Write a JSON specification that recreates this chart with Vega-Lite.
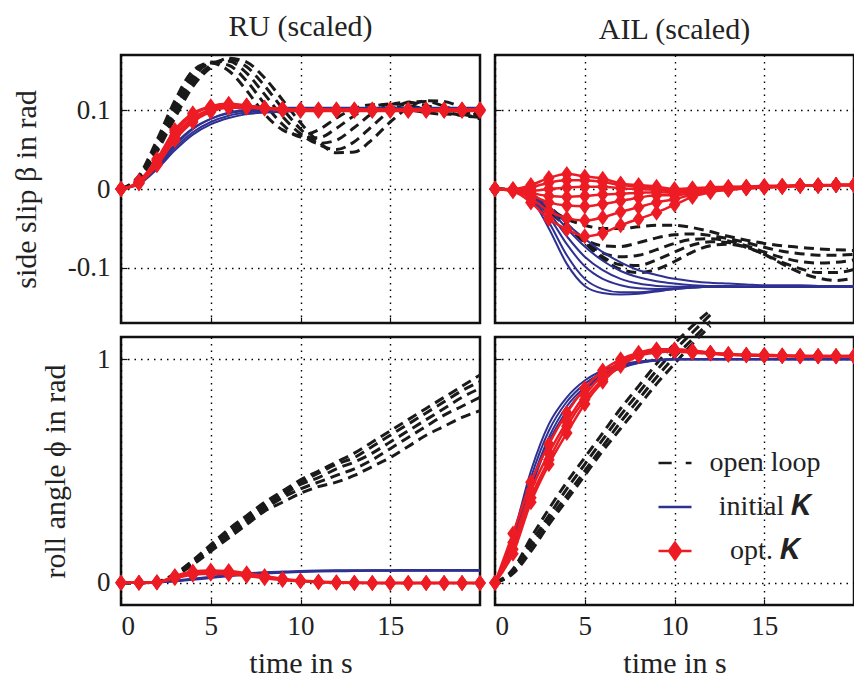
{
  "$schema": "https://vega.github.io/schema/vega-lite/v6.json",
  "padding": {"left": 10, "top": 10, "right": 1, "bottom": 1},
  "config": {
    "font": "Liberation Serif, Times New Roman, DejaVu Serif, serif",
    "view": {"stroke": "#111111", "strokeWidth": 2.5},
    "axis": {
      "grid": true, "gridColor": "#000000", "gridDash": [1.5, 5], "gridWidth": 1.4, "gridOpacity": 1,
      "domain": false, "ticks": true, "tickColor": "#111111", "tickSize": -6, "tickWidth": 1.2,
      "labelFont": "Liberation Serif, Times New Roman, DejaVu Serif, serif", "labelFontSize": 27, "labelColor": "#222222",
      "titleFont": "Liberation Serif, Times New Roman, DejaVu Serif, serif", "titleFontSize": 30, "titleFontWeight": "normal", "titleColor": "#222222"
    },
    "title": {"font": "Liberation Serif, Times New Roman, DejaVu Serif, serif", "fontSize": 30, "fontWeight": "normal", "color": "#222222", "offset": 10, "anchor": "middle"},
    "line": {"interpolate": "monotone", "clip": true}
  },
  "datasets": {
    "tlo": [
      {"c":1,"t":0,"v":0},{"c":1,"t":1,"v":0.017},{"c":1,"t":2,"v":0.062},{"c":1,"t":3,"v":0.112},{"c":1,"t":4,"v":0.15},{"c":1,"t":5,"v":0.16},{"c":1,"t":6,"v":0.15},{"c":1,"t":7,"v":0.125},{"c":1,"t":8,"v":0.095},{"c":1,"t":9,"v":0.075},{"c":1,"t":10,"v":0.068},{"c":1,"t":11,"v":0.075},{"c":1,"t":12,"v":0.09},{"c":1,"t":13,"v":0.102},{"c":1,"t":14,"v":0.107},{"c":1,"t":15,"v":0.106},{"c":1,"t":16,"v":0.101},{"c":1,"t":17,"v":0.097},{"c":1,"t":18,"v":0.095},{"c":1,"t":19,"v":0.096},{"c":1,"t":20,"v":0.098},
      {"c":2,"t":0,"v":0},{"c":2,"t":1,"v":0.015},{"c":2,"t":2,"v":0.057},{"c":2,"t":3,"v":0.106},{"c":2,"t":4,"v":0.145},{"c":2,"t":5,"v":0.161},{"c":2,"t":6,"v":0.157},{"c":2,"t":7,"v":0.137},{"c":2,"t":8,"v":0.108},{"c":2,"t":9,"v":0.082},{"c":2,"t":10,"v":0.066},{"c":2,"t":11,"v":0.065},{"c":2,"t":12,"v":0.077},{"c":2,"t":13,"v":0.093},{"c":2,"t":14,"v":0.104},{"c":2,"t":15,"v":0.108},{"c":2,"t":16,"v":0.106},{"c":2,"t":17,"v":0.101},{"c":2,"t":18,"v":0.096},{"c":2,"t":19,"v":0.094},{"c":2,"t":20,"v":0.095},
      {"c":3,"t":0,"v":0},{"c":3,"t":1,"v":0.014},{"c":3,"t":2,"v":0.053},{"c":3,"t":3,"v":0.1},{"c":3,"t":4,"v":0.14},{"c":3,"t":5,"v":0.16},{"c":3,"t":6,"v":0.162},{"c":3,"t":7,"v":0.147},{"c":3,"t":8,"v":0.12},{"c":3,"t":9,"v":0.092},{"c":3,"t":10,"v":0.07},{"c":3,"t":11,"v":0.058},{"c":3,"t":12,"v":0.062},{"c":3,"t":13,"v":0.078},{"c":3,"t":14,"v":0.096},{"c":3,"t":15,"v":0.107},{"c":3,"t":16,"v":0.11},{"c":3,"t":17,"v":0.106},{"c":3,"t":18,"v":0.099},{"c":3,"t":19,"v":0.093},{"c":3,"t":20,"v":0.091},
      {"c":4,"t":0,"v":0},{"c":4,"t":1,"v":0.013},{"c":4,"t":2,"v":0.05},{"c":4,"t":3,"v":0.095},{"c":4,"t":4,"v":0.135},{"c":4,"t":5,"v":0.157},{"c":4,"t":6,"v":0.165},{"c":4,"t":7,"v":0.155},{"c":4,"t":8,"v":0.131},{"c":4,"t":9,"v":0.102},{"c":4,"t":10,"v":0.076},{"c":4,"t":11,"v":0.057},{"c":4,"t":12,"v":0.05},{"c":4,"t":13,"v":0.06},{"c":4,"t":14,"v":0.08},{"c":4,"t":15,"v":0.099},{"c":4,"t":16,"v":0.11},{"c":4,"t":17,"v":0.111},{"c":4,"t":18,"v":0.105},{"c":4,"t":19,"v":0.096},{"c":4,"t":20,"v":0.089},
      {"c":5,"t":0,"v":0},{"c":5,"t":1,"v":0.012},{"c":5,"t":2,"v":0.047},{"c":5,"t":3,"v":0.09},{"c":5,"t":4,"v":0.13},{"c":5,"t":5,"v":0.154},{"c":5,"t":6,"v":0.166},{"c":5,"t":7,"v":0.161},{"c":5,"t":8,"v":0.141},{"c":5,"t":9,"v":0.113},{"c":5,"t":10,"v":0.084},{"c":5,"t":11,"v":0.06},{"c":5,"t":12,"v":0.046},{"c":5,"t":13,"v":0.047},{"c":5,"t":14,"v":0.063},{"c":5,"t":15,"v":0.085},{"c":5,"t":16,"v":0.103},{"c":5,"t":17,"v":0.112},{"c":5,"t":18,"v":0.111},{"c":5,"t":19,"v":0.103},{"c":5,"t":20,"v":0.093}
    ],
    "tlb": [
      {"c":1,"t":0,"v":0},{"c":1,"t":1,"v":0.008},{"c":1,"t":2,"v":0.03},{"c":1,"t":3,"v":0.057},{"c":1,"t":4,"v":0.077},{"c":1,"t":5,"v":0.089},{"c":1,"t":6,"v":0.096},{"c":1,"t":7,"v":0.099},{"c":1,"t":8,"v":0.1},{"c":1,"t":9,"v":0.101},{"c":1,"t":10,"v":0.101},{"c":1,"t":11,"v":0.101},{"c":1,"t":12,"v":0.101},{"c":1,"t":13,"v":0.101},{"c":1,"t":14,"v":0.101},{"c":1,"t":15,"v":0.101},{"c":1,"t":16,"v":0.101},{"c":1,"t":17,"v":0.101},{"c":1,"t":18,"v":0.101},{"c":1,"t":19,"v":0.101},{"c":1,"t":20,"v":0.101},
      {"c":2,"t":0,"v":0},{"c":2,"t":1,"v":0.007},{"c":2,"t":2,"v":0.027},{"c":2,"t":3,"v":0.052},{"c":2,"t":4,"v":0.072},{"c":2,"t":5,"v":0.085},{"c":2,"t":6,"v":0.093},{"c":2,"t":7,"v":0.097},{"c":2,"t":8,"v":0.099},{"c":2,"t":9,"v":0.1},{"c":2,"t":10,"v":0.1},{"c":2,"t":11,"v":0.1},{"c":2,"t":12,"v":0.1},{"c":2,"t":13,"v":0.1},{"c":2,"t":14,"v":0.1},{"c":2,"t":15,"v":0.1},{"c":2,"t":16,"v":0.1},{"c":2,"t":17,"v":0.1},{"c":2,"t":18,"v":0.1},{"c":2,"t":19,"v":0.1},{"c":2,"t":20,"v":0.1},
      {"c":3,"t":0,"v":0},{"c":3,"t":1,"v":0.006},{"c":3,"t":2,"v":0.025},{"c":3,"t":3,"v":0.049},{"c":3,"t":4,"v":0.069},{"c":3,"t":5,"v":0.082},{"c":3,"t":6,"v":0.09},{"c":3,"t":7,"v":0.095},{"c":3,"t":8,"v":0.097},{"c":3,"t":9,"v":0.098},{"c":3,"t":10,"v":0.099},{"c":3,"t":11,"v":0.099},{"c":3,"t":12,"v":0.099},{"c":3,"t":13,"v":0.099},{"c":3,"t":14,"v":0.099},{"c":3,"t":15,"v":0.099},{"c":3,"t":16,"v":0.099},{"c":3,"t":17,"v":0.099},{"c":3,"t":18,"v":0.099},{"c":3,"t":19,"v":0.099},{"c":3,"t":20,"v":0.099},
      {"c":4,"t":0,"v":0},{"c":4,"t":1,"v":0.008},{"c":4,"t":2,"v":0.029},{"c":4,"t":3,"v":0.055},{"c":4,"t":4,"v":0.076},{"c":4,"t":5,"v":0.089},{"c":4,"t":6,"v":0.097},{"c":4,"t":7,"v":0.101},{"c":4,"t":8,"v":0.102},{"c":4,"t":9,"v":0.103},{"c":4,"t":10,"v":0.103},{"c":4,"t":11,"v":0.103},{"c":4,"t":12,"v":0.103},{"c":4,"t":13,"v":0.103},{"c":4,"t":14,"v":0.103},{"c":4,"t":15,"v":0.103},{"c":4,"t":16,"v":0.103},{"c":4,"t":17,"v":0.103},{"c":4,"t":18,"v":0.103},{"c":4,"t":19,"v":0.103},{"c":4,"t":20,"v":0.103}
    ],
    "tlr": [
      {"c":1,"t":0,"v":0},{"c":1,"t":1,"v":0.01},{"c":1,"t":2,"v":0.038},{"c":1,"t":3,"v":0.075},{"c":1,"t":4,"v":0.096},{"c":1,"t":5,"v":0.105},{"c":1,"t":6,"v":0.108},{"c":1,"t":7,"v":0.106},{"c":1,"t":8,"v":0.103},{"c":1,"t":9,"v":0.101},{"c":1,"t":10,"v":0.1},{"c":1,"t":11,"v":0.1},{"c":1,"t":12,"v":0.1},{"c":1,"t":13,"v":0.1},{"c":1,"t":14,"v":0.1},{"c":1,"t":15,"v":0.1},{"c":1,"t":16,"v":0.1},{"c":1,"t":17,"v":0.1},{"c":1,"t":18,"v":0.1},{"c":1,"t":19,"v":0.1},{"c":1,"t":20,"v":0.1},
      {"c":2,"t":0,"v":0},{"c":2,"t":1,"v":0.008},{"c":2,"t":2,"v":0.033},{"c":2,"t":3,"v":0.068},{"c":2,"t":4,"v":0.09},{"c":2,"t":5,"v":0.101},{"c":2,"t":6,"v":0.105},{"c":2,"t":7,"v":0.105},{"c":2,"t":8,"v":0.103},{"c":2,"t":9,"v":0.101},{"c":2,"t":10,"v":0.1},{"c":2,"t":11,"v":0.1},{"c":2,"t":12,"v":0.1},{"c":2,"t":13,"v":0.1},{"c":2,"t":14,"v":0.1},{"c":2,"t":15,"v":0.1},{"c":2,"t":16,"v":0.1},{"c":2,"t":17,"v":0.1},{"c":2,"t":18,"v":0.1},{"c":2,"t":19,"v":0.1},{"c":2,"t":20,"v":0.1},
      {"c":3,"t":0,"v":0},{"c":3,"t":1,"v":0.007},{"c":3,"t":2,"v":0.03},{"c":3,"t":3,"v":0.062},{"c":3,"t":4,"v":0.085},{"c":3,"t":5,"v":0.098},{"c":3,"t":6,"v":0.104},{"c":3,"t":7,"v":0.105},{"c":3,"t":8,"v":0.103},{"c":3,"t":9,"v":0.102},{"c":3,"t":10,"v":0.101},{"c":3,"t":11,"v":0.101},{"c":3,"t":12,"v":0.101},{"c":3,"t":13,"v":0.101},{"c":3,"t":14,"v":0.101},{"c":3,"t":15,"v":0.101},{"c":3,"t":16,"v":0.101},{"c":3,"t":17,"v":0.101},{"c":3,"t":18,"v":0.101},{"c":3,"t":19,"v":0.101},{"c":3,"t":20,"v":0.101},
      {"c":4,"t":0,"v":0},{"c":4,"t":1,"v":0.009},{"c":4,"t":2,"v":0.036},{"c":4,"t":3,"v":0.072},{"c":4,"t":4,"v":0.094},{"c":4,"t":5,"v":0.104},{"c":4,"t":6,"v":0.107},{"c":4,"t":7,"v":0.106},{"c":4,"t":8,"v":0.102},{"c":4,"t":9,"v":0.1},{"c":4,"t":10,"v":0.099},{"c":4,"t":11,"v":0.099},{"c":4,"t":12,"v":0.099},{"c":4,"t":13,"v":0.099},{"c":4,"t":14,"v":0.099},{"c":4,"t":15,"v":0.099},{"c":4,"t":16,"v":0.099},{"c":4,"t":17,"v":0.099},{"c":4,"t":18,"v":0.099},{"c":4,"t":19,"v":0.099},{"c":4,"t":20,"v":0.099},
      {"c":5,"t":0,"v":0},{"c":5,"t":1,"v":0.008},{"c":5,"t":2,"v":0.031},{"c":5,"t":3,"v":0.065},{"c":5,"t":4,"v":0.088},{"c":5,"t":5,"v":0.099},{"c":5,"t":6,"v":0.103},{"c":5,"t":7,"v":0.103},{"c":5,"t":8,"v":0.102},{"c":5,"t":9,"v":0.101},{"c":5,"t":10,"v":0.101},{"c":5,"t":11,"v":0.101},{"c":5,"t":12,"v":0.101},{"c":5,"t":13,"v":0.101},{"c":5,"t":14,"v":0.101},{"c":5,"t":15,"v":0.101},{"c":5,"t":16,"v":0.101},{"c":5,"t":17,"v":0.101},{"c":5,"t":18,"v":0.101},{"c":5,"t":19,"v":0.101},{"c":5,"t":20,"v":0.101}
    ],
    "tro": [
      {"c":1,"t":0,"v":0},{"c":1,"t":1,"v":-0.002},{"c":1,"t":2,"v":-0.011},{"c":1,"t":3,"v":-0.025},{"c":1,"t":4,"v":-0.038},{"c":1,"t":5,"v":-0.046},{"c":1,"t":6,"v":-0.05},{"c":1,"t":7,"v":-0.05},{"c":1,"t":8,"v":-0.048},{"c":1,"t":9,"v":-0.046},{"c":1,"t":10,"v":-0.046},{"c":1,"t":11,"v":-0.049},{"c":1,"t":12,"v":-0.054},{"c":1,"t":13,"v":-0.06},{"c":1,"t":14,"v":-0.065},{"c":1,"t":15,"v":-0.069},{"c":1,"t":16,"v":-0.072},{"c":1,"t":17,"v":-0.074},{"c":1,"t":18,"v":-0.076},{"c":1,"t":19,"v":-0.077},{"c":1,"t":20,"v":-0.078},
      {"c":2,"t":0,"v":0},{"c":2,"t":1,"v":-0.002},{"c":2,"t":2,"v":-0.011},{"c":2,"t":3,"v":-0.028},{"c":2,"t":4,"v":-0.048},{"c":2,"t":5,"v":-0.064},{"c":2,"t":6,"v":-0.072},{"c":2,"t":7,"v":-0.073},{"c":2,"t":8,"v":-0.068},{"c":2,"t":9,"v":-0.062},{"c":2,"t":10,"v":-0.058},{"c":2,"t":11,"v":-0.057},{"c":2,"t":12,"v":-0.059},{"c":2,"t":13,"v":-0.063},{"c":2,"t":14,"v":-0.068},{"c":2,"t":15,"v":-0.074},{"c":2,"t":16,"v":-0.079},{"c":2,"t":17,"v":-0.082},{"c":2,"t":18,"v":-0.084},{"c":2,"t":19,"v":-0.084},{"c":2,"t":20,"v":-0.083},
      {"c":3,"t":0,"v":0},{"c":3,"t":1,"v":-0.002},{"c":3,"t":2,"v":-0.01},{"c":3,"t":3,"v":-0.026},{"c":3,"t":4,"v":-0.047},{"c":3,"t":5,"v":-0.067},{"c":3,"t":6,"v":-0.081},{"c":3,"t":7,"v":-0.086},{"c":3,"t":8,"v":-0.084},{"c":3,"t":9,"v":-0.077},{"c":3,"t":10,"v":-0.069},{"c":3,"t":11,"v":-0.064},{"c":3,"t":12,"v":-0.063},{"c":3,"t":13,"v":-0.066},{"c":3,"t":14,"v":-0.072},{"c":3,"t":15,"v":-0.08},{"c":3,"t":16,"v":-0.087},{"c":3,"t":17,"v":-0.092},{"c":3,"t":18,"v":-0.094},{"c":3,"t":19,"v":-0.093},{"c":3,"t":20,"v":-0.09},
      {"c":4,"t":0,"v":0},{"c":4,"t":1,"v":-0.001},{"c":4,"t":2,"v":-0.009},{"c":4,"t":3,"v":-0.024},{"c":4,"t":4,"v":-0.046},{"c":4,"t":5,"v":-0.068},{"c":4,"t":6,"v":-0.086},{"c":4,"t":7,"v":-0.096},{"c":4,"t":8,"v":-0.097},{"c":4,"t":9,"v":-0.09},{"c":4,"t":10,"v":-0.08},{"c":4,"t":11,"v":-0.071},{"c":4,"t":12,"v":-0.067},{"c":4,"t":13,"v":-0.068},{"c":4,"t":14,"v":-0.074},{"c":4,"t":15,"v":-0.083},{"c":4,"t":16,"v":-0.093},{"c":4,"t":17,"v":-0.101},{"c":4,"t":18,"v":-0.106},{"c":4,"t":19,"v":-0.106},{"c":4,"t":20,"v":-0.102},
      {"c":5,"t":0,"v":0},{"c":5,"t":1,"v":-0.001},{"c":5,"t":2,"v":-0.008},{"c":5,"t":3,"v":-0.022},{"c":5,"t":4,"v":-0.044},{"c":5,"t":5,"v":-0.068},{"c":5,"t":6,"v":-0.089},{"c":5,"t":7,"v":-0.102},{"c":5,"t":8,"v":-0.106},{"c":5,"t":9,"v":-0.102},{"c":5,"t":10,"v":-0.092},{"c":5,"t":11,"v":-0.08},{"c":5,"t":12,"v":-0.072},{"c":5,"t":13,"v":-0.07},{"c":5,"t":14,"v":-0.074},{"c":5,"t":15,"v":-0.083},{"c":5,"t":16,"v":-0.095},{"c":5,"t":17,"v":-0.106},{"c":5,"t":18,"v":-0.113},{"c":5,"t":19,"v":-0.116},{"c":5,"t":20,"v":-0.113}
    ],
    "trb": [
      {"c":1,"t":0,"v":0},{"c":1,"t":1,"v":-0.001},{"c":1,"t":2,"v":-0.012},{"c":1,"t":3,"v":-0.05},{"c":1,"t":4,"v":-0.095},{"c":1,"t":5,"v":-0.123},{"c":1,"t":6,"v":-0.132},{"c":1,"t":7,"v":-0.134},{"c":1,"t":8,"v":-0.133},{"c":1,"t":9,"v":-0.13},{"c":1,"t":10,"v":-0.127},{"c":1,"t":11,"v":-0.125},{"c":1,"t":12,"v":-0.124},{"c":1,"t":13,"v":-0.124},{"c":1,"t":14,"v":-0.124},{"c":1,"t":15,"v":-0.124},{"c":1,"t":16,"v":-0.124},{"c":1,"t":17,"v":-0.124},{"c":1,"t":18,"v":-0.124},{"c":1,"t":19,"v":-0.124},{"c":1,"t":20,"v":-0.124},
      {"c":2,"t":0,"v":0},{"c":2,"t":1,"v":-0.001},{"c":2,"t":2,"v":-0.01},{"c":2,"t":3,"v":-0.042},{"c":2,"t":4,"v":-0.084},{"c":2,"t":5,"v":-0.114},{"c":2,"t":6,"v":-0.127},{"c":2,"t":7,"v":-0.131},{"c":2,"t":8,"v":-0.131},{"c":2,"t":9,"v":-0.129},{"c":2,"t":10,"v":-0.127},{"c":2,"t":11,"v":-0.125},{"c":2,"t":12,"v":-0.124},{"c":2,"t":13,"v":-0.124},{"c":2,"t":14,"v":-0.124},{"c":2,"t":15,"v":-0.124},{"c":2,"t":16,"v":-0.124},{"c":2,"t":17,"v":-0.124},{"c":2,"t":18,"v":-0.124},{"c":2,"t":19,"v":-0.124},{"c":2,"t":20,"v":-0.124},
      {"c":3,"t":0,"v":0},{"c":3,"t":1,"v":-0.001},{"c":3,"t":2,"v":-0.009},{"c":3,"t":3,"v":-0.035},{"c":3,"t":4,"v":-0.07},{"c":3,"t":5,"v":-0.098},{"c":3,"t":6,"v":-0.114},{"c":3,"t":7,"v":-0.122},{"c":3,"t":8,"v":-0.126},{"c":3,"t":9,"v":-0.127},{"c":3,"t":10,"v":-0.126},{"c":3,"t":11,"v":-0.125},{"c":3,"t":12,"v":-0.124},{"c":3,"t":13,"v":-0.124},{"c":3,"t":14,"v":-0.124},{"c":3,"t":15,"v":-0.124},{"c":3,"t":16,"v":-0.124},{"c":3,"t":17,"v":-0.124},{"c":3,"t":18,"v":-0.124},{"c":3,"t":19,"v":-0.124},{"c":3,"t":20,"v":-0.124},
      {"c":4,"t":0,"v":0},{"c":4,"t":1,"v":-0.001},{"c":4,"t":2,"v":-0.008},{"c":4,"t":3,"v":-0.03},{"c":4,"t":4,"v":-0.06},{"c":4,"t":5,"v":-0.086},{"c":4,"t":6,"v":-0.103},{"c":4,"t":7,"v":-0.114},{"c":4,"t":8,"v":-0.12},{"c":4,"t":9,"v":-0.123},{"c":4,"t":10,"v":-0.124},{"c":4,"t":11,"v":-0.124},{"c":4,"t":12,"v":-0.124},{"c":4,"t":13,"v":-0.124},{"c":4,"t":14,"v":-0.124},{"c":4,"t":15,"v":-0.124},{"c":4,"t":16,"v":-0.124},{"c":4,"t":17,"v":-0.124},{"c":4,"t":18,"v":-0.124},{"c":4,"t":19,"v":-0.124},{"c":4,"t":20,"v":-0.124},
      {"c":5,"t":0,"v":0},{"c":5,"t":1,"v":-0.001},{"c":5,"t":2,"v":-0.007},{"c":5,"t":3,"v":-0.025},{"c":5,"t":4,"v":-0.05},{"c":5,"t":5,"v":-0.073},{"c":5,"t":6,"v":-0.091},{"c":5,"t":7,"v":-0.104},{"c":5,"t":8,"v":-0.112},{"c":5,"t":9,"v":-0.117},{"c":5,"t":10,"v":-0.12},{"c":5,"t":11,"v":-0.122},{"c":5,"t":12,"v":-0.123},{"c":5,"t":13,"v":-0.123},{"c":5,"t":14,"v":-0.124},{"c":5,"t":15,"v":-0.124},{"c":5,"t":16,"v":-0.124},{"c":5,"t":17,"v":-0.124},{"c":5,"t":18,"v":-0.124},{"c":5,"t":19,"v":-0.124},{"c":5,"t":20,"v":-0.124},
      {"c":6,"t":0,"v":0},{"c":6,"t":1,"v":-0.001},{"c":6,"t":2,"v":-0.006},{"c":6,"t":3,"v":-0.022},{"c":6,"t":4,"v":-0.044},{"c":6,"t":5,"v":-0.063},{"c":6,"t":6,"v":-0.08},{"c":6,"t":7,"v":-0.093},{"c":6,"t":8,"v":-0.103},{"c":6,"t":9,"v":-0.109},{"c":6,"t":10,"v":-0.114},{"c":6,"t":11,"v":-0.117},{"c":6,"t":12,"v":-0.119},{"c":6,"t":13,"v":-0.12},{"c":6,"t":14,"v":-0.121},{"c":6,"t":15,"v":-0.122},{"c":6,"t":16,"v":-0.122},{"c":6,"t":17,"v":-0.122},{"c":6,"t":18,"v":-0.123},{"c":6,"t":19,"v":-0.123},{"c":6,"t":20,"v":-0.123}
    ],
    "trr": [
      {"c":1,"t":0,"v":0},{"c":1,"t":1,"v":0},{"c":1,"t":2,"v":0.005},{"c":1,"t":3,"v":0.014},{"c":1,"t":4,"v":0.019},{"c":1,"t":5,"v":0.016},{"c":1,"t":6,"v":0.013},{"c":1,"t":7,"v":0.007},{"c":1,"t":8,"v":0.005},{"c":1,"t":9,"v":0.003},{"c":1,"t":10,"v":0},{"c":1,"t":11,"v":0.001},{"c":1,"t":12,"v":0.002},{"c":1,"t":13,"v":0.003},{"c":1,"t":14,"v":0.003},{"c":1,"t":15,"v":0.004},{"c":1,"t":16,"v":0.004},{"c":1,"t":17,"v":0.004},{"c":1,"t":18,"v":0.005},{"c":1,"t":19,"v":0.005},{"c":1,"t":20,"v":0.005},
      {"c":2,"t":0,"v":0},{"c":2,"t":1,"v":-0.001},{"c":2,"t":2,"v":0.002},{"c":2,"t":3,"v":0.008},{"c":2,"t":4,"v":0.011},{"c":2,"t":5,"v":0.011},{"c":2,"t":6,"v":0.009},{"c":2,"t":7,"v":0.005},{"c":2,"t":8,"v":0.003},{"c":2,"t":9,"v":0.001},{"c":2,"t":10,"v":-0.001},{"c":2,"t":11,"v":0},{"c":2,"t":12,"v":0.001},{"c":2,"t":13,"v":0.002},{"c":2,"t":14,"v":0.003},{"c":2,"t":15,"v":0.003},{"c":2,"t":16,"v":0.004},{"c":2,"t":17,"v":0.004},{"c":2,"t":18,"v":0.004},{"c":2,"t":19,"v":0.005},{"c":2,"t":20,"v":0.005},
      {"c":3,"t":0,"v":0},{"c":3,"t":1,"v":-0.001},{"c":3,"t":2,"v":-0.002},{"c":3,"t":3,"v":0},{"c":3,"t":4,"v":0.002},{"c":3,"t":5,"v":0.003},{"c":3,"t":6,"v":0.003},{"c":3,"t":7,"v":0.001},{"c":3,"t":8,"v":0},{"c":3,"t":9,"v":-0.001},{"c":3,"t":10,"v":-0.003},{"c":3,"t":11,"v":-0.001},{"c":3,"t":12,"v":0},{"c":3,"t":13,"v":0.001},{"c":3,"t":14,"v":0.002},{"c":3,"t":15,"v":0.003},{"c":3,"t":16,"v":0.003},{"c":3,"t":17,"v":0.004},{"c":3,"t":18,"v":0.004},{"c":3,"t":19,"v":0.005},{"c":3,"t":20,"v":0.005},
      {"c":4,"t":0,"v":0},{"c":4,"t":1,"v":-0.001},{"c":4,"t":2,"v":-0.005},{"c":4,"t":3,"v":-0.009},{"c":4,"t":4,"v":-0.01},{"c":4,"t":5,"v":-0.009},{"c":4,"t":6,"v":-0.007},{"c":4,"t":7,"v":-0.006},{"c":4,"t":8,"v":-0.005},{"c":4,"t":9,"v":-0.004},{"c":4,"t":10,"v":-0.005},{"c":4,"t":11,"v":-0.003},{"c":4,"t":12,"v":-0.001},{"c":4,"t":13,"v":0},{"c":4,"t":14,"v":0.001},{"c":4,"t":15,"v":0.002},{"c":4,"t":16,"v":0.003},{"c":4,"t":17,"v":0.004},{"c":4,"t":18,"v":0.004},{"c":4,"t":19,"v":0.005},{"c":4,"t":20,"v":0.005},
      {"c":5,"t":0,"v":0},{"c":5,"t":1,"v":-0.002},{"c":5,"t":2,"v":-0.008},{"c":5,"t":3,"v":-0.017},{"c":5,"t":4,"v":-0.021},{"c":5,"t":5,"v":-0.022},{"c":5,"t":6,"v":-0.019},{"c":5,"t":7,"v":-0.015},{"c":5,"t":8,"v":-0.011},{"c":5,"t":9,"v":-0.008},{"c":5,"t":10,"v":-0.008},{"c":5,"t":11,"v":-0.005},{"c":5,"t":12,"v":-0.002},{"c":5,"t":13,"v":0},{"c":5,"t":14,"v":0.001},{"c":5,"t":15,"v":0.002},{"c":5,"t":16,"v":0.003},{"c":5,"t":17,"v":0.004},{"c":5,"t":18,"v":0.004},{"c":5,"t":19,"v":0.005},{"c":5,"t":20,"v":0.005},
      {"c":6,"t":0,"v":0},{"c":6,"t":1,"v":-0.002},{"c":6,"t":2,"v":-0.012},{"c":6,"t":3,"v":-0.028},{"c":6,"t":4,"v":-0.037},{"c":6,"t":5,"v":-0.04},{"c":6,"t":6,"v":-0.036},{"c":6,"t":7,"v":-0.029},{"c":6,"t":8,"v":-0.023},{"c":6,"t":9,"v":-0.017},{"c":6,"t":10,"v":-0.013},{"c":6,"t":11,"v":-0.007},{"c":6,"t":12,"v":-0.003},{"c":6,"t":13,"v":-0.001},{"c":6,"t":14,"v":0.001},{"c":6,"t":15,"v":0.002},{"c":6,"t":16,"v":0.003},{"c":6,"t":17,"v":0.004},{"c":6,"t":18,"v":0.004},{"c":6,"t":19,"v":0.005},{"c":6,"t":20,"v":0.005},
      {"c":7,"t":0,"v":0},{"c":7,"t":1,"v":-0.003},{"c":7,"t":2,"v":-0.017},{"c":7,"t":3,"v":-0.038},{"c":7,"t":4,"v":-0.051},{"c":7,"t":5,"v":-0.06},{"c":7,"t":6,"v":-0.056},{"c":7,"t":7,"v":-0.046},{"c":7,"t":8,"v":-0.038},{"c":7,"t":9,"v":-0.03},{"c":7,"t":10,"v":-0.02},{"c":7,"t":11,"v":-0.01},{"c":7,"t":12,"v":-0.004},{"c":7,"t":13,"v":-0.001},{"c":7,"t":14,"v":0.001},{"c":7,"t":15,"v":0.002},{"c":7,"t":16,"v":0.003},{"c":7,"t":17,"v":0.004},{"c":7,"t":18,"v":0.004},{"c":7,"t":19,"v":0.005},{"c":7,"t":20,"v":0.005}
    ],
    "blo": [
      {"c":1,"t":0,"v":0},{"c":1,"t":1,"v":0},{"c":1,"t":2,"v":0.005},{"c":1,"t":3,"v":0.04},{"c":1,"t":4,"v":0.1},{"c":1,"t":5,"v":0.17},{"c":1,"t":6,"v":0.24},{"c":1,"t":7,"v":0.3},{"c":1,"t":8,"v":0.36},{"c":1,"t":9,"v":0.41},{"c":1,"t":10,"v":0.46},{"c":1,"t":11,"v":0.5},{"c":1,"t":12,"v":0.54},{"c":1,"t":13,"v":0.58},{"c":1,"t":14,"v":0.63},{"c":1,"t":15,"v":0.68},{"c":1,"t":16,"v":0.73},{"c":1,"t":17,"v":0.78},{"c":1,"t":18,"v":0.83},{"c":1,"t":19,"v":0.88},{"c":1,"t":20,"v":0.93},
      {"c":2,"t":0,"v":0},{"c":2,"t":1,"v":0},{"c":2,"t":2,"v":0.005},{"c":2,"t":3,"v":0.038},{"c":2,"t":4,"v":0.095},{"c":2,"t":5,"v":0.16},{"c":2,"t":6,"v":0.23},{"c":2,"t":7,"v":0.29},{"c":2,"t":8,"v":0.35},{"c":2,"t":9,"v":0.4},{"c":2,"t":10,"v":0.45},{"c":2,"t":11,"v":0.49},{"c":2,"t":12,"v":0.53},{"c":2,"t":13,"v":0.56},{"c":2,"t":14,"v":0.61},{"c":2,"t":15,"v":0.66},{"c":2,"t":16,"v":0.71},{"c":2,"t":17,"v":0.76},{"c":2,"t":18,"v":0.81},{"c":2,"t":19,"v":0.86},{"c":2,"t":20,"v":0.9},
      {"c":3,"t":0,"v":0},{"c":3,"t":1,"v":0},{"c":3,"t":2,"v":0.004},{"c":3,"t":3,"v":0.035},{"c":3,"t":4,"v":0.09},{"c":3,"t":5,"v":0.155},{"c":3,"t":6,"v":0.22},{"c":3,"t":7,"v":0.28},{"c":3,"t":8,"v":0.34},{"c":3,"t":9,"v":0.39},{"c":3,"t":10,"v":0.44},{"c":3,"t":11,"v":0.47},{"c":3,"t":12,"v":0.51},{"c":3,"t":13,"v":0.54},{"c":3,"t":14,"v":0.58},{"c":3,"t":15,"v":0.63},{"c":3,"t":16,"v":0.68},{"c":3,"t":17,"v":0.73},{"c":3,"t":18,"v":0.78},{"c":3,"t":19,"v":0.83},{"c":3,"t":20,"v":0.87},
      {"c":4,"t":0,"v":0},{"c":4,"t":1,"v":0},{"c":4,"t":2,"v":0.004},{"c":4,"t":3,"v":0.033},{"c":4,"t":4,"v":0.085},{"c":4,"t":5,"v":0.15},{"c":4,"t":6,"v":0.21},{"c":4,"t":7,"v":0.27},{"c":4,"t":8,"v":0.33},{"c":4,"t":9,"v":0.38},{"c":4,"t":10,"v":0.42},{"c":4,"t":11,"v":0.45},{"c":4,"t":12,"v":0.48},{"c":4,"t":13,"v":0.51},{"c":4,"t":14,"v":0.55},{"c":4,"t":15,"v":0.6},{"c":4,"t":16,"v":0.65},{"c":4,"t":17,"v":0.7},{"c":4,"t":18,"v":0.75},{"c":4,"t":19,"v":0.79},{"c":4,"t":20,"v":0.83},
      {"c":5,"t":0,"v":0},{"c":5,"t":1,"v":0},{"c":5,"t":2,"v":0.003},{"c":5,"t":3,"v":0.03},{"c":5,"t":4,"v":0.08},{"c":5,"t":5,"v":0.14},{"c":5,"t":6,"v":0.2},{"c":5,"t":7,"v":0.26},{"c":5,"t":8,"v":0.32},{"c":5,"t":9,"v":0.36},{"c":5,"t":10,"v":0.4},{"c":5,"t":11,"v":0.43},{"c":5,"t":12,"v":0.45},{"c":5,"t":13,"v":0.48},{"c":5,"t":14,"v":0.52},{"c":5,"t":15,"v":0.56},{"c":5,"t":16,"v":0.61},{"c":5,"t":17,"v":0.66},{"c":5,"t":18,"v":0.7},{"c":5,"t":19,"v":0.74},{"c":5,"t":20,"v":0.77}
    ],
    "blb": [
      {"c":1,"t":0,"v":0},{"c":1,"t":1,"v":0},{"c":1,"t":2,"v":0.002},{"c":1,"t":3,"v":0.008},{"c":1,"t":4,"v":0.016},{"c":1,"t":5,"v":0.025},{"c":1,"t":6,"v":0.033},{"c":1,"t":7,"v":0.04},{"c":1,"t":8,"v":0.045},{"c":1,"t":9,"v":0.049},{"c":1,"t":10,"v":0.051},{"c":1,"t":11,"v":0.053},{"c":1,"t":12,"v":0.054},{"c":1,"t":13,"v":0.055},{"c":1,"t":14,"v":0.055},{"c":1,"t":15,"v":0.055},{"c":1,"t":16,"v":0.056},{"c":1,"t":17,"v":0.056},{"c":1,"t":18,"v":0.056},{"c":1,"t":19,"v":0.056},{"c":1,"t":20,"v":0.056},
      {"c":2,"t":0,"v":0},{"c":2,"t":1,"v":0},{"c":2,"t":2,"v":0.002},{"c":2,"t":3,"v":0.007},{"c":2,"t":4,"v":0.014},{"c":2,"t":5,"v":0.022},{"c":2,"t":6,"v":0.03},{"c":2,"t":7,"v":0.037},{"c":2,"t":8,"v":0.042},{"c":2,"t":9,"v":0.046},{"c":2,"t":10,"v":0.049},{"c":2,"t":11,"v":0.051},{"c":2,"t":12,"v":0.052},{"c":2,"t":13,"v":0.053},{"c":2,"t":14,"v":0.054},{"c":2,"t":15,"v":0.054},{"c":2,"t":16,"v":0.054},{"c":2,"t":17,"v":0.055},{"c":2,"t":18,"v":0.055},{"c":2,"t":19,"v":0.055},{"c":2,"t":20,"v":0.055}
    ],
    "blr": [
      {"c":1,"t":0,"v":0},{"c":1,"t":1,"v":0},{"c":1,"t":2,"v":0.002},{"c":1,"t":3,"v":0.03},{"c":1,"t":4,"v":0.05},{"c":1,"t":5,"v":0.055},{"c":1,"t":6,"v":0.052},{"c":1,"t":7,"v":0.042},{"c":1,"t":8,"v":0.03},{"c":1,"t":9,"v":0.018},{"c":1,"t":10,"v":0.01},{"c":1,"t":11,"v":0.005},{"c":1,"t":12,"v":0.002},{"c":1,"t":13,"v":0},{"c":1,"t":14,"v":-0.001},{"c":1,"t":15,"v":-0.002},{"c":1,"t":16,"v":-0.002},{"c":1,"t":17,"v":-0.002},{"c":1,"t":18,"v":-0.002},{"c":1,"t":19,"v":-0.002},{"c":1,"t":20,"v":-0.002},
      {"c":2,"t":0,"v":0},{"c":2,"t":1,"v":0},{"c":2,"t":2,"v":0.001},{"c":2,"t":3,"v":0.02},{"c":2,"t":4,"v":0.035},{"c":2,"t":5,"v":0.04},{"c":2,"t":6,"v":0.038},{"c":2,"t":7,"v":0.03},{"c":2,"t":8,"v":0.02},{"c":2,"t":9,"v":0.012},{"c":2,"t":10,"v":0.006},{"c":2,"t":11,"v":0.002},{"c":2,"t":12,"v":0},{"c":2,"t":13,"v":-0.001},{"c":2,"t":14,"v":-0.002},{"c":2,"t":15,"v":-0.002},{"c":2,"t":16,"v":-0.002},{"c":2,"t":17,"v":-0.002},{"c":2,"t":18,"v":-0.002},{"c":2,"t":19,"v":-0.002},{"c":2,"t":20,"v":-0.002},
      {"c":3,"t":0,"v":0},{"c":3,"t":1,"v":0},{"c":3,"t":2,"v":0.002},{"c":3,"t":3,"v":0.025},{"c":3,"t":4,"v":0.043},{"c":3,"t":5,"v":0.05},{"c":3,"t":6,"v":0.047},{"c":3,"t":7,"v":0.036},{"c":3,"t":8,"v":0.024},{"c":3,"t":9,"v":0.014},{"c":3,"t":10,"v":0.007},{"c":3,"t":11,"v":0.003},{"c":3,"t":12,"v":0.001},{"c":3,"t":13,"v":0},{"c":3,"t":14,"v":-0.001},{"c":3,"t":15,"v":-0.002},{"c":3,"t":16,"v":-0.002},{"c":3,"t":17,"v":-0.002},{"c":3,"t":18,"v":-0.002},{"c":3,"t":19,"v":-0.002},{"c":3,"t":20,"v":-0.002}
    ],
    "bro": [
      {"c":1,"t":0,"v":0},{"c":1,"t":1,"v":0.06},{"c":1,"t":2,"v":0.2},{"c":1,"t":3,"v":0.33},{"c":1,"t":4,"v":0.45},{"c":1,"t":5,"v":0.56},{"c":1,"t":6,"v":0.67},{"c":1,"t":7,"v":0.78},{"c":1,"t":8,"v":0.88},{"c":1,"t":9,"v":0.98},{"c":1,"t":10,"v":1.07},{"c":1,"t":11,"v":1.15},{"c":1,"t":12,"v":1.22},
      {"c":2,"t":0,"v":0},{"c":2,"t":1,"v":0.05},{"c":2,"t":2,"v":0.18},{"c":2,"t":3,"v":0.3},{"c":2,"t":4,"v":0.42},{"c":2,"t":5,"v":0.53},{"c":2,"t":6,"v":0.64},{"c":2,"t":7,"v":0.75},{"c":2,"t":8,"v":0.85},{"c":2,"t":9,"v":0.95},{"c":2,"t":10,"v":1.04},{"c":2,"t":11,"v":1.12},{"c":2,"t":12,"v":1.2},
      {"c":3,"t":0,"v":0},{"c":3,"t":1,"v":0.045},{"c":3,"t":2,"v":0.16},{"c":3,"t":3,"v":0.28},{"c":3,"t":4,"v":0.39},{"c":3,"t":5,"v":0.5},{"c":3,"t":6,"v":0.61},{"c":3,"t":7,"v":0.72},{"c":3,"t":8,"v":0.82},{"c":3,"t":9,"v":0.92},{"c":3,"t":10,"v":1.01},{"c":3,"t":11,"v":1.09},{"c":3,"t":12,"v":1.17},
      {"c":4,"t":0,"v":0},{"c":4,"t":1,"v":0.04},{"c":4,"t":2,"v":0.14},{"c":4,"t":3,"v":0.26},{"c":4,"t":4,"v":0.37},{"c":4,"t":5,"v":0.48},{"c":4,"t":6,"v":0.59},{"c":4,"t":7,"v":0.69},{"c":4,"t":8,"v":0.79},{"c":4,"t":9,"v":0.89},{"c":4,"t":10,"v":0.98},{"c":4,"t":11,"v":1.07},{"c":4,"t":12,"v":1.15}
    ],
    "brb": [
      {"c":1,"t":0,"v":0},{"c":1,"t":1,"v":0.21},{"c":1,"t":2,"v":0.5},{"c":1,"t":3,"v":0.71},{"c":1,"t":4,"v":0.83},{"c":1,"t":5,"v":0.905},{"c":1,"t":6,"v":0.95},{"c":1,"t":7,"v":0.977},{"c":1,"t":8,"v":0.99},{"c":1,"t":9,"v":0.997},{"c":1,"t":10,"v":1},{"c":1,"t":11,"v":1},{"c":1,"t":12,"v":1},{"c":1,"t":13,"v":1},{"c":1,"t":14,"v":1},{"c":1,"t":15,"v":1},{"c":1,"t":16,"v":1},{"c":1,"t":17,"v":1},{"c":1,"t":18,"v":1},{"c":1,"t":19,"v":1},{"c":1,"t":20,"v":1},
      {"c":2,"t":0,"v":0},{"c":2,"t":1,"v":0.19},{"c":2,"t":2,"v":0.47},{"c":2,"t":3,"v":0.68},{"c":2,"t":4,"v":0.81},{"c":2,"t":5,"v":0.89},{"c":2,"t":6,"v":0.94},{"c":2,"t":7,"v":0.97},{"c":2,"t":8,"v":0.988},{"c":2,"t":9,"v":0.996},{"c":2,"t":10,"v":1},{"c":2,"t":11,"v":1},{"c":2,"t":12,"v":1},{"c":2,"t":13,"v":1},{"c":2,"t":14,"v":1},{"c":2,"t":15,"v":1},{"c":2,"t":16,"v":1},{"c":2,"t":17,"v":1},{"c":2,"t":18,"v":1},{"c":2,"t":19,"v":1},{"c":2,"t":20,"v":1},
      {"c":3,"t":0,"v":0},{"c":3,"t":1,"v":0.17},{"c":3,"t":2,"v":0.44},{"c":3,"t":3,"v":0.65},{"c":3,"t":4,"v":0.79},{"c":3,"t":5,"v":0.875},{"c":3,"t":6,"v":0.93},{"c":3,"t":7,"v":0.965},{"c":3,"t":8,"v":0.985},{"c":3,"t":9,"v":0.995},{"c":3,"t":10,"v":1},{"c":3,"t":11,"v":1},{"c":3,"t":12,"v":1},{"c":3,"t":13,"v":1},{"c":3,"t":14,"v":1},{"c":3,"t":15,"v":1},{"c":3,"t":16,"v":1},{"c":3,"t":17,"v":1},{"c":3,"t":18,"v":1},{"c":3,"t":19,"v":1},{"c":3,"t":20,"v":1},
      {"c":4,"t":0,"v":0},{"c":4,"t":1,"v":0.16},{"c":4,"t":2,"v":0.42},{"c":4,"t":3,"v":0.63},{"c":4,"t":4,"v":0.77},{"c":4,"t":5,"v":0.865},{"c":4,"t":6,"v":0.925},{"c":4,"t":7,"v":0.96},{"c":4,"t":8,"v":0.983},{"c":4,"t":9,"v":0.994},{"c":4,"t":10,"v":1},{"c":4,"t":11,"v":1},{"c":4,"t":12,"v":1},{"c":4,"t":13,"v":1},{"c":4,"t":14,"v":1},{"c":4,"t":15,"v":1},{"c":4,"t":16,"v":1},{"c":4,"t":17,"v":1},{"c":4,"t":18,"v":1},{"c":4,"t":19,"v":1},{"c":4,"t":20,"v":1}
    ],
    "brr": [
      {"c":1,"t":0,"v":0},{"c":1,"t":1,"v":0.22},{"c":1,"t":2,"v":0.45},{"c":1,"t":3,"v":0.62},{"c":1,"t":4,"v":0.76},{"c":1,"t":5,"v":0.87},{"c":1,"t":6,"v":0.95},{"c":1,"t":7,"v":1},{"c":1,"t":8,"v":1.03},{"c":1,"t":9,"v":1.045},{"c":1,"t":10,"v":1.045},{"c":1,"t":11,"v":1.04},{"c":1,"t":12,"v":1.03},{"c":1,"t":13,"v":1.025},{"c":1,"t":14,"v":1.02},{"c":1,"t":15,"v":1.02},{"c":1,"t":16,"v":1.018},{"c":1,"t":17,"v":1.016},{"c":1,"t":18,"v":1.015},{"c":1,"t":19,"v":1.015},{"c":1,"t":20,"v":1.015},
      {"c":2,"t":0,"v":0},{"c":2,"t":1,"v":0.18},{"c":2,"t":2,"v":0.41},{"c":2,"t":3,"v":0.58},{"c":2,"t":4,"v":0.72},{"c":2,"t":5,"v":0.84},{"c":2,"t":6,"v":0.93},{"c":2,"t":7,"v":0.99},{"c":2,"t":8,"v":1.025},{"c":2,"t":9,"v":1.04},{"c":2,"t":10,"v":1.04},{"c":2,"t":11,"v":1.035},{"c":2,"t":12,"v":1.03},{"c":2,"t":13,"v":1.02},{"c":2,"t":14,"v":1.02},{"c":2,"t":15,"v":1.018},{"c":2,"t":16,"v":1.016},{"c":2,"t":17,"v":1.015},{"c":2,"t":18,"v":1.015},{"c":2,"t":19,"v":1.015},{"c":2,"t":20,"v":1.015},
      {"c":3,"t":0,"v":0},{"c":3,"t":1,"v":0.15},{"c":3,"t":2,"v":0.38},{"c":3,"t":3,"v":0.55},{"c":3,"t":4,"v":0.7},{"c":3,"t":5,"v":0.82},{"c":3,"t":6,"v":0.91},{"c":3,"t":7,"v":0.98},{"c":3,"t":8,"v":1.02},{"c":3,"t":9,"v":1.035},{"c":3,"t":10,"v":1.04},{"c":3,"t":11,"v":1.035},{"c":3,"t":12,"v":1.028},{"c":3,"t":13,"v":1.022},{"c":3,"t":14,"v":1.018},{"c":3,"t":15,"v":1.016},{"c":3,"t":16,"v":1.015},{"c":3,"t":17,"v":1.014},{"c":3,"t":18,"v":1.014},{"c":3,"t":19,"v":1.014},{"c":3,"t":20,"v":1.014},
      {"c":4,"t":0,"v":0},{"c":4,"t":1,"v":0.13},{"c":4,"t":2,"v":0.36},{"c":4,"t":3,"v":0.53},{"c":4,"t":4,"v":0.67},{"c":4,"t":5,"v":0.8},{"c":4,"t":6,"v":0.9},{"c":4,"t":7,"v":0.97},{"c":4,"t":8,"v":1.015},{"c":4,"t":9,"v":1.03},{"c":4,"t":10,"v":1.035},{"c":4,"t":11,"v":1.03},{"c":4,"t":12,"v":1.025},{"c":4,"t":13,"v":1.02},{"c":4,"t":14,"v":1.017},{"c":4,"t":15,"v":1.015},{"c":4,"t":16,"v":1.014},{"c":4,"t":17,"v":1.013},{"c":4,"t":18,"v":1.013},{"c":4,"t":19,"v":1.013},{"c":4,"t":20,"v":1.013}
    ]
  },
  "columns": 2,
  "spacing": {"row": 14, "column": 15},
  "bounds": "flush",
  "resolve": {"scale": {"fill": "independent", "stroke": "independent", "shape": "independent"}, "legend": {"fill": "independent", "stroke": "independent", "shape": "independent"}},
  "concat": [
    {
      "width": 359, "height": 268,
      "title": "RU (scaled)",
      "encoding": {
        "x": {"field": "t", "type": "quantitative", "scale": {"domain": [0, 20], "nice": false}, "axis": {"values": [0, 5, 10, 15], "labels": false, "title": null}},
        "y": {"field": "v", "type": "quantitative", "scale": {"domain": [-0.17, 0.17], "nice": false, "zero": false}, "axis": {"values": [-0.1, 0, 0.1], "labelExpr": "datum.value > 0.05 ? '0.1' : (datum.value < -0.05 ? '-0.1' : '0')", "labelPadding": 17, "title": "side slip β in rad", "titlePadding": 26}}
      },
      "layer": [
        {"data": {"name": "tlo"}, "mark": {"type": "line", "color": "#1a1a1a", "strokeWidth": 3, "strokeDash": [10, 6]}, "encoding": {"detail": {"field": "c", "type": "nominal"}}},
        {"data": {"name": "tlb"}, "mark": {"type": "line", "color": "#2e3192", "strokeWidth": 2}, "encoding": {"detail": {"field": "c", "type": "nominal"}}},
        {"data": {"name": "tlr"}, "mark": {"type": "line", "color": "#ed1c24", "strokeWidth": 2.5}, "encoding": {"detail": {"field": "c", "type": "nominal"}}},
        {"data": {"name": "tlr"}, "mark": {"type": "point", "shape": "M0,-1L0.72,0L0,1L-0.72,0Z", "size": 256, "filled": true, "color": "#ed1c24", "opacity": 1}}
      ]
    },
    {
      "width": 359, "height": 268,
      "title": "AIL (scaled)",
      "encoding": {
        "x": {"field": "t", "type": "quantitative", "scale": {"domain": [0, 20], "nice": false}, "axis": {"values": [0, 5, 10, 15], "labels": false, "title": null}},
        "y": {"field": "v", "type": "quantitative", "scale": {"domain": [-0.17, 0.17], "nice": false, "zero": false}, "axis": {"values": [-0.1, 0, 0.1], "labels": false, "title": null}}
      },
      "layer": [
        {"data": {"name": "tro"}, "mark": {"type": "line", "color": "#1a1a1a", "strokeWidth": 3, "strokeDash": [10, 6]}, "encoding": {"detail": {"field": "c", "type": "nominal"}}},
        {"data": {"name": "trb"}, "mark": {"type": "line", "color": "#2e3192", "strokeWidth": 2}, "encoding": {"detail": {"field": "c", "type": "nominal"}}},
        {"data": {"name": "trr"}, "mark": {"type": "line", "color": "#ed1c24", "strokeWidth": 2.5}, "encoding": {"detail": {"field": "c", "type": "nominal"}}},
        {"data": {"name": "trr"}, "mark": {"type": "point", "shape": "M0,-1L0.72,0L0,1L-0.72,0Z", "size": 256, "filled": true, "color": "#ed1c24", "opacity": 1}}
      ]
    },
    {
      "width": 359, "height": 268,
      "encoding": {
        "x": {"field": "t", "type": "quantitative", "scale": {"domain": [0, 20], "nice": false}, "axis": {"values": [0, 5, 10, 15], "labelPadding": 14, "title": "time in s", "titlePadding": 9}},
        "y": {"field": "v", "type": "quantitative", "scale": {"domain": [-0.1, 1.1], "nice": false, "zero": false}, "axis": {"values": [0, 1], "format": "d", "labelPadding": 17, "title": "roll angle ϕ in rad", "titlePadding": 26}}
      },
      "layer": [
        {"data": {"name": "blo"}, "mark": {"type": "line", "color": "#1a1a1a", "strokeWidth": 3, "strokeDash": [10, 6]}, "encoding": {"detail": {"field": "c", "type": "nominal"}}},
        {"data": {"name": "blb"}, "mark": {"type": "line", "color": "#2e3192", "strokeWidth": 2.5}, "encoding": {"detail": {"field": "c", "type": "nominal"}}},
        {"data": {"name": "blr"}, "mark": {"type": "line", "color": "#ed1c24", "strokeWidth": 2.5}, "encoding": {"detail": {"field": "c", "type": "nominal"}}},
        {"data": {"name": "blr"}, "mark": {"type": "point", "shape": "M0,-1L0.72,0L0,1L-0.72,0Z", "size": 256, "filled": true, "color": "#ed1c24", "opacity": 1}}
      ]
    },
    {
      "width": 359, "height": 268,
      "encoding": {
        "x": {"field": "t", "type": "quantitative", "scale": {"domain": [0, 20], "nice": false}, "axis": {"values": [0, 5, 10, 15], "labelPadding": 14, "title": "time in s", "titlePadding": 9}},
        "y": {"field": "v", "type": "quantitative", "scale": {"domain": [-0.1, 1.1], "nice": false, "zero": false}, "axis": {"values": [0, 1], "labels": false, "title": null}}
      },
      "layer": [
        {"data": {"name": "bro"}, "mark": {"type": "line", "color": "#1a1a1a", "strokeWidth": 3, "strokeDash": [10, 6]}, "encoding": {"detail": {"field": "c", "type": "nominal"}}},
        {"data": {"name": "brb"}, "mark": {"type": "line", "color": "#2e3192", "strokeWidth": 2}, "encoding": {"detail": {"field": "c", "type": "nominal"}}},
        {"data": {"name": "brr"}, "mark": {"type": "line", "color": "#ed1c24", "strokeWidth": 2.5}, "encoding": {"detail": {"field": "c", "type": "nominal"}}},
        {"data": {"name": "brr"}, "mark": {"type": "point", "shape": "M0,-1L0.72,0L0,1L-0.72,0Z", "size": 256, "filled": true, "color": "#ed1c24", "opacity": 1}},
        {
          "data": {"values": []},
          "mark": {"type": "point", "filled": true, "strokeWidth": 2.5, "opacity": 1},
          "encoding": {
            "shape": {"field": "g", "type": "nominal", "scale": {"domain": ["open loop", "initial 𝑲", "opt. 𝑲"], "range": ["M-1,0H-0.2M0.65,0H1", "M-1,0H1", "M-1,0H1M0,-0.5L0.36,0L0,0.5L-0.36,0Z"]},
              "legend": {"orient": "none", "legendX": 162, "legendY": 108, "title": null, "padding": 0, "symbolSize": 1089, "symbolStrokeWidth": 2.5, "labelFontSize": 28, "labelColor": "#222222", "labelAlign": "center", "labelOffset": 72, "rowPadding": 12, "labelLimit": 400}},
            "fill": {"field": "g", "type": "nominal", "scale": {"domain": ["open loop", "initial 𝑲", "opt. 𝑲"], "range": ["transparent", "transparent", "#ed1c24"]},
              "legend": {"orient": "none", "legendX": 162, "legendY": 108, "title": null, "padding": 0, "symbolSize": 1089, "symbolStrokeWidth": 2.5, "labelFontSize": 28, "labelColor": "#222222", "labelAlign": "center", "labelOffset": 72, "rowPadding": 12, "labelLimit": 400}},
            "stroke": {"field": "g", "type": "nominal", "scale": {"domain": ["open loop", "initial 𝑲", "opt. 𝑲"], "range": ["#1a1a1a", "#2e3192", "#ed1c24"]},
              "legend": {"orient": "none", "legendX": 162, "legendY": 108, "title": null, "padding": 0, "symbolSize": 1089, "symbolStrokeWidth": 2.5, "labelFontSize": 28, "labelColor": "#222222", "labelAlign": "center", "labelOffset": 72, "rowPadding": 12, "labelLimit": 400}}
          }
        }
      ]
    }
  ]
}
